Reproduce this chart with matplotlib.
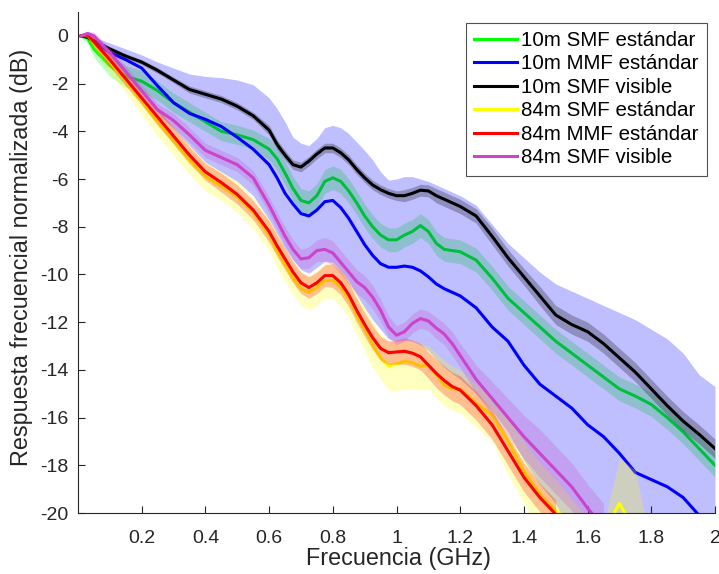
import numpy as np
import matplotlib
matplotlib.use("Agg")
import matplotlib.pyplot as plt
from matplotlib.lines import Line2D

plt.rcParams['font.family'] = ['Liberation Sans', 'DejaVu Sans']

nan = np.nan

# Frequency grid (GHz)
freq = [0.01, 0.03, 0.05, 0.10, 0.15, 0.20, 0.25, 0.30, 0.35, 0.40, 0.45, 0.50, 0.55,
        0.600, 0.625, 0.650, 0.675, 0.700, 0.725, 0.750, 0.775, 0.800, 0.825, 0.850, 0.875,
        0.900, 0.925, 0.950, 0.975, 1.000, 1.025, 1.050, 1.075, 1.100, 1.125, 1.150, 1.175, 1.200,
        1.25, 1.30, 1.35, 1.40, 1.45, 1.50, 1.55, 1.60, 1.65, 1.70, 1.75, 1.80, 1.85, 1.90, 1.95, 2.00]

labels = ["10m SMF estándar", "10m MMF estándar", "10m SMF visible",
          "84m SMF estándar", "84m MMF estándar", "84m SMF visible"]
colors = ["#00FF00", "#0000FF", "#000000", "#FFFF00", "#FF0000", "#CC44CC"]

# 10m SMF estándar (green)
smf10 = [0, -0.1, -0.55, -1.25, -1.7, -1.9, -2.3, -2.8, -3.2, -3.6, -4.0, -4.15, -4.35,
         -4.75, -5.15, -5.75, -6.4, -6.9, -7.0, -6.7, -6.1, -5.95, -6.1, -6.5, -7.0,
         -7.55, -8.0, -8.35, -8.55, -8.55, -8.35, -8.2, -7.95, -8.2, -8.7, -8.95, -9.0, -9.05,
         -9.4, -10.15, -11.0, -11.6, -12.2, -12.8, -13.3, -13.8, -14.3, -14.8, -15.1, -15.45, -16.0, -16.6, -17.3, -18.0]
smf10_hw = [0.1, 0.2, 0.35, 0.45, 0.45, 0.45, 0.4, 0.4, 0.4, 0.4, 0.4, 0.4, 0.4,
            0.45, 0.5, 0.5, 0.5, 0.5, 0.5, 0.5, 0.5, 0.5, 0.5, 0.5, 0.5,
            0.5, 0.5, 0.5, 0.5, 0.5, 0.5, 0.5, 0.5, 0.5, 0.5, 0.5, 0.5, 0.5,
            0.5, 0.5, 0.5, 0.5, 0.5, 0.5, 0.5, 0.5, 0.5, 0.5, 0.5, 0.5, 0.5, 0.5, 0.5, 0.5]

# 10m MMF estándar (blue)
mmf10 = [0, -0.05, -0.25, -0.7, -1.0, -1.35, -2.1, -2.8, -3.25, -3.5, -3.8, -4.25, -4.75,
         -5.4, -5.95, -6.6, -7.05, -7.45, -7.55, -7.3, -6.95, -6.9, -7.2, -7.65, -8.2,
         -8.75, -9.2, -9.55, -9.7, -9.7, -9.65, -9.7, -9.85, -10.1, -10.4, -10.6, -10.75, -10.9,
         -11.4, -12.2, -12.8, -13.8, -14.6, -15.1, -15.6, -16.3, -16.8, -17.5, -18.3, -18.6, -18.9, -19.35, -20.1, -20.8]
mmf10_hi = [0, 0, -0.05, -0.3, -0.55, -0.8, -1.1, -1.35, -1.6, -1.7, -1.75, -1.85, -2.05,
            -2.6, -3.05, -3.6, -4.25, -4.5, -4.6, -4.3, -3.85, -3.75, -3.85, -4.1, -4.45,
            -4.8, -5.2, -5.7, -6.05, -6.0, -5.9, -5.9, -6.0, -6.1, -6.25, -6.4, -6.55, -6.7,
            -7.1, -7.9, -8.7, -9.3, -9.9, -10.4, -10.7, -11.0, -11.3, -11.6, -11.9, -12.3, -12.7, -13.3, -14.2, -14.7]
mmf10_lo = [0, -0.05, -0.25, -0.9, -1.6, -2.4, -3.2, -3.9, -4.6, -5.3, -5.7, -6.1, -6.7,
            -7.7, -8.3, -8.9, -9.4, -9.8, -9.95, -9.7, -9.45, -9.5, -9.85, -10.3, -10.85,
            -11.4, -11.9, -12.3, -12.7, -12.8, -12.75, -12.8, -12.95, -13.2, -13.55, -13.9, -14.15, -14.4,
            -15.0, -15.7, -16.6, -17.8, -18.8, -19.6, -21, -21, -21, -21, -21, -21, -21, -21, -21, -21]

# 10m SMF visible (black)
vis10 = [0, -0.05, -0.2, -0.55, -0.85, -1.1, -1.45, -1.85, -2.25, -2.45, -2.65, -2.95, -3.35,
         -3.95, -4.55, -5.0, -5.4, -5.5, -5.25, -4.95, -4.7, -4.7, -4.9, -5.2, -5.6,
         -5.95, -6.25, -6.45, -6.6, -6.7, -6.7, -6.6, -6.47, -6.5, -6.7, -6.85, -7.0, -7.15,
         -7.55, -8.4, -9.3, -10.1, -10.9, -11.7, -12.1, -12.4, -12.9, -13.5, -14.1, -14.8, -15.5, -16.15, -16.7, -17.3]
vis10_hw = [0.02, 0.05, 0.05, 0.1, 0.1, 0.1, 0.12, 0.12, 0.15, 0.15, 0.15, 0.15, 0.15,
            0.2, 0.2, 0.2, 0.2, 0.2, 0.2, 0.2, 0.2, 0.2, 0.2, 0.2, 0.2,
            0.2, 0.2, 0.2, 0.2, 0.2, 0.25, 0.25, 0.25, 0.25, 0.3, 0.3, 0.3, 0.3,
            0.3, 0.35, 0.35, 0.35, 0.4, 0.4, 0.4, 0.4, 0.4, 0.4, 0.4, 0.4, 0.4, 0.4, 0.4, 0.4]

# 84m SMF estándar (yellow)
smf84 = [0, 0.05, -0.3, -1.1, -1.9, -2.75, -3.6, -4.4, -5.2, -5.9, -6.3, -6.75, -7.4,
         -8.35, -9.0, -9.6, -10.15, -10.6, -10.75, -10.55, -10.25, -10.25, -10.55, -11.0, -11.7,
         -12.3, -12.95, -13.5, -13.85, -13.75, -13.65, -13.7, -13.85, -13.8, -14.2, -14.65, -14.8, -14.8,
         -15.4, -15.9, -17.0, -18.25, -19.2, -19.9, -20.4, -21.0, -20.8, -19.6, -20.8, -21.5, nan, nan, nan, nan]
smf84_hi = [0, 0.15, -0.1, -0.7, -1.4, -2.2, -3.0, -3.8, -4.6, -5.3, -5.7, -6.1, -6.8,
            -7.7, -8.3, -8.9, -9.45, -9.9, -10.05, -9.85, -9.55, -9.5, -9.75, -10.2, -10.85,
            -11.4, -12.0, -12.5, -12.85, -12.8, -12.75, -12.8, -12.9, -13.0, -13.3, -13.6, -13.85, -14.0,
            -14.6, -15.2, -16.0, -17.0, -17.9, -18.6, -19.4, -20.2, -20.5, -17.7, -18.2, -21.5, nan, nan, nan, nan]
smf84_lo = [0, -0.1, -0.5, -1.5, -2.4, -3.3, -4.2, -5.0, -5.8, -6.5, -6.9, -7.4, -8.1,
            -9.0, -9.7, -10.3, -10.85, -11.3, -11.5, -11.3, -11.0, -11.0, -11.35, -11.8, -12.55,
            -13.2, -13.9, -14.4, -14.85, -14.9, -14.8, -14.8, -14.85, -14.8, -15.2, -15.5, -15.7, -15.8,
            -16.4, -17.0, -18.4, -19.6, -20.6, -21, -21, -21, -21, -21, -21, -21.5, nan, nan, nan, nan]

# 84m MMF estándar (red)
mmf84 = [0, 0.05, -0.25, -1.0, -1.8, -2.6, -3.4, -4.2, -5.0, -5.7, -6.15, -6.65, -7.3,
         -8.2, -8.8, -9.35, -9.9, -10.35, -10.55, -10.35, -10.05, -10.05, -10.35, -10.85, -11.5,
         -12.1, -12.65, -13.1, -13.28, -13.25, -13.22, -13.3, -13.45, -13.8, -14.15, -14.45, -14.7, -14.85,
         -15.5, -16.3, -17.4, -18.5, -19.35, -20.05, nan, nan, nan, nan, nan, nan, nan, nan, nan, nan]
mmf84_hw = [0.05, 0.1, 0.2, 0.3, 0.3, 0.3, 0.35, 0.35, 0.35, 0.35, 0.4, 0.4, 0.4,
            0.45, 0.45, 0.45, 0.45, 0.45, 0.45, 0.45, 0.45, 0.5, 0.5, 0.5, 0.5,
            0.5, 0.5, 0.5, 0.5, 0.5, 0.55, 0.55, 0.55, 0.55, 0.6, 0.6, 0.6, 0.6,
            0.6, 0.6, 0.6, 0.6, 0.6, 0.6, nan, nan, nan, nan, nan, nan, nan, nan, nan, nan]

# 84m SMF visible (magenta)
vis84 = [0, 0.1, 0.0, -0.7, -1.5, -2.3, -3.1, -3.55, -4.15, -4.8, -5.1, -5.4, -5.95,
         -7.1, -7.75, -8.4, -8.95, -9.35, -9.3, -9.0, -8.95, -9.1, -9.5, -9.9, -10.3,
         -10.55, -10.95, -11.5, -12.2, -12.55, -12.4, -12.05, -11.85, -11.95, -12.25, -12.5, -12.9, -13.4,
         -14.4, -15.2, -16.0, -16.8, -17.5, -18.2, -18.9, -19.8, -20.6, nan, nan, nan, nan, nan, nan, nan]
vis84_hw = [0.05, 0.1, 0.15, 0.2, 0.25, 0.25, 0.25, 0.3, 0.3, 0.3, 0.3, 0.3, 0.3,
            0.35, 0.35, 0.4, 0.4, 0.4, 0.45, 0.45, 0.5, 0.5, 0.5, 0.5, 0.5,
            0.5, 0.5, 0.45, 0.45, 0.4, 0.4, 0.4, 0.4, 0.4, 0.45, 0.45, 0.5, 0.5,
            0.6, 0.7, 0.8, 0.9, 1.0, 1.0, 1.0, 1.0, 1.0, nan, nan, nan, nan, nan, nan, nan]

f = np.array(freq)
A = np.array
series = [
    (A(smf10), A(smf10) - A(smf10_hw), A(smf10) + A(smf10_hw)),
    (A(mmf10), A(mmf10_lo), A(mmf10_hi)),
    (A(vis10), A(vis10) - A(vis10_hw), A(vis10) + A(vis10_hw)),
    (A(smf84), A(smf84_lo), A(smf84_hi)),
    (A(mmf84), A(mmf84) - A(mmf84_hw), A(mmf84) + A(mmf84_hw)),
    (A(vis84), A(vis84) - A(vis84_hw), A(vis84) + A(vis84_hw)),
]

fig = plt.figure(figsize=(7.19, 5.74), dpi=100)
ax = fig.add_axes([78 / 719, 1 - 513 / 574, (715 - 78) / 719, (513 - 12) / 574])

z = 2
for (mean, lo, hi), c in zip(series, colors):
    ax.plot(f, mean, color=c, lw=2.2, zorder=z, solid_joinstyle='round')
    ax.fill_between(f, lo, hi, color=c, alpha=0.25, lw=0, zorder=z + 1)
    z += 2

ax.set_xlim(0, 2)
ax.set_ylim(-20, 1)
xt = [0.2, 0.4, 0.6, 0.8, 1.0, 1.2, 1.4, 1.6, 1.8, 2.0]
ax.set_xticks(xt)
ax.set_xticklabels(["0.2", "0.4", "0.6", "0.8", "1", "1.2", "1.4", "1.6", "1.8", "2"])
yt = list(range(-20, 1, 2))
ax.set_yticks(yt)
ax.set_yticklabels([str(v) for v in yt])
ax.tick_params(direction='in', length=5, width=0.8, labelsize=14, colors='#262626')
ax.tick_params(axis='x', pad=12)
ax.tick_params(axis='y', pad=7)
for s in ['top', 'right']:
    ax.spines[s].set_visible(False)
for s in ['left', 'bottom']:
    ax.spines[s].set_color('#262626')
    ax.spines[s].set_linewidth(0.8)
    ax.spines[s].set_zorder(20)

ax.set_xlabel("Frecuencia (GHz)", fontsize=16.8, color='#262626')
ax.set_ylabel("Respuesta frecuencial normalizada (dB)", fontsize=16.8, color='#262626')
ax.xaxis.set_label_coords(0.503, (513 - 559) / 501)
ax.xaxis.label.set_verticalalignment('center')
ax.yaxis.set_label_coords((22 - 78) / 637, 0.51)
ax.yaxis.label.set_verticalalignment('center')

handles = [Line2D([0], [0], color=c, lw=2.2) for c in colors]
leg = ax.legend(handles, labels, loc='upper right', bbox_to_anchor=(0.9875, 0.979),
                borderaxespad=0, fontsize=14.8, handlelength=2.1, handletextpad=0.2,
                labelspacing=0.22, frameon=True, fancybox=False, borderpad=0.4)
leg.get_frame().set_edgecolor('#262626')
leg.get_frame().set_linewidth(0.8)
leg.set_zorder(30)

fig.savefig("out.png", dpi=100)
